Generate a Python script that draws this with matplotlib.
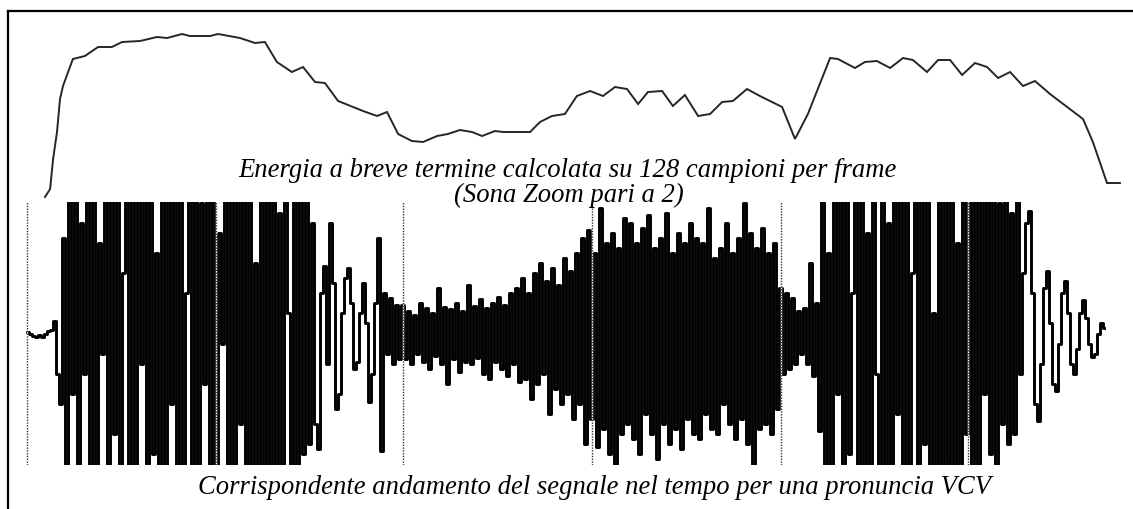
import matplotlib

matplotlib.use("Agg")
import matplotlib.pyplot as plt
import numpy as np

W, H = 1133, 510

# short-time energy (x in waveform sample units, y in arbitrary level units)
energy_t = [6.0, 7.7, 8.7, 10.0, 11.0, 12.0, 13.7, 15.3, 19.3, 23.7, 28.3, 31.7,
            37.7, 43.3, 46.7, 51.7, 54.3, 61.0, 63.7, 71.0, 76.0, 79.3, 83.3,
            88.3, 92.0, 96.0, 99.3, 103.7, 108.7, 112.0, 116.7, 120.0, 123.7,
            128.3, 132.0, 136.7, 140.3, 144.3, 148.3, 151.7, 156.0, 158.7,
            167.7, 171.0, 175.0, 179.3, 183.3, 187.7, 192.0, 196.0, 200.0,
            203.7, 207.0, 211.7, 215.3, 219.3, 223.7, 227.7, 231.7, 235.3,
            240.0, 244.3, 251.7, 256.0, 260.3, 267.7, 270.3, 276.0, 279.3,
            283.3, 287.7, 292.0, 295.3, 300.0, 303.7, 307.7, 311.7, 316.0,
            320.0, 323.7, 327.7, 332.0, 336.0, 341.0, 352.0, 355.3, 360.0, 364.3]
energy_v = [2, 10, 40, 67, 100, 113, 127, 140, 143, 152, 152, 157,
            158, 162, 161, 165, 163, 163, 165, 161, 156, 157, 137,
            127, 132, 117, 116, 98, 92, 88, 83, 87, 65,
            58, 57, 63, 65, 69, 67, 63, 68, 67,
            67, 77, 83, 85, 103, 108, 103, 112, 110,
            95, 107, 108, 93, 104, 83, 85, 97, 98,
            110, 103, 92, 60, 85, 141, 140, 131, 137,
            138, 131, 141, 139, 127, 139, 139, 124, 136,
            132, 121, 127, 113, 118, 105, 80, 57, 16, 16]

# speech waveform samples (VCV), amplitude in display units, clipped at +-131
wave_silence = [1, 0, -2, -3, -1, -3, 0, 2, 3]
wave_onset = [12, -40, -70, 95]
wave_vowel1 = [-150, 160, -60, 150, -160, 110, -40, 165, -150, 160,
               -170, 90, -20, 160, -150, 170, -100, 150, -160, 60,
               170, -155, 140, -170, 165, -30, 150, -160, 170, -120,
               80, -165, 160, -150, 170, -70, 155, -170, 150, -160,
               40, 170, -150, 160, -170, 130, -50, 165, -160, 150,
               -170, 100, -10, 170, -155, 160, -170, 150, -90, 165,
               -160, 170, -150, 70, -165, 160, -170, 150, -130, 170,
               -160, 120, -150, 165, 20, -160, 150, -140, 160, -120,
               140, -110]
wave_taper = [110, -90, -115, 40, 67, -30, 110, 50, -75, -60, 20, 55]
wave_mid = [65, 30, -35, -28, 20, 50, 10, -68, -40, 30, 95, -117,
            40, -20, 35, -30, 28, -25]
wave_cons1 = [28, -25, 22, -30, 18, -20, 30, -28, 25, -35,
              20, -22, 45, -30, 26, -50, 24, -25, 30, -38,
              22, -28, 48, -30, 27, -24, 34, -40, 25, -45,
              30, -28, 36, -35, 28, -42, 40, -30, 45, -48]
wave_cons2 = [55, -45, 40, -65, 60, -50, 70, -40, 52, -80,
              65, -55, 48, -70, 75, -60, 62, -85, 80, -70]
wave_cons3 = [95, -110, 103, -85, 80, -113, 125, -95, 90, -120,
              100, -130, 85, -100, 115, -90, 110, -105, 90, -120,
              105, -80, 118, -100, 85, -125, 95, -90, 120, -110,
              80, -95, 100, -115, 90, -85, 110, -100, 95, -105]
wave_cons4 = [90, -80, 125, -95, 75, -100, 85, -70, 110, -90,
              80, -105, 95, -85, 130, -110, 100, -140, 85, -95,
              105, -90, 80, -100, 90, -75]
wave_fade = [45, -40, 40, -35, 35, -30, 22, -20, 25, -30, 70, -42, 30]
wave_vowel2 = [-97, 165, -150, 80, -160, 170, -60, 150, -165, 160,
               -120, 40, 170, -150, 165, -170, 100, -140, 160, -40,
               -160, 170, -150, 110, -170, 160, -80, 165, -150, 170,
               -160, 60, 150, -170, 160, -110, 170, -150, 20, -165,
               160, -150, 170, -130, 150, -160, 90, -170, 160, -100,
               170, -150, 140, -160, 165, -60, 150, -120, 160, -140,
               130, -90, 150, -110, 120, -100, 135]
wave_decay = [-40, 60, 110, 122, 40, -70, -87, -30, 45, 62, 10, -50, -57,
              -10, 40, 52, 20, -30, -40, -15, 20, 33, 15, -10, -23, -20, 0,
              10, 5]

frame_marks = [0, 63, 125.3, 188.3, 251.3, 313.7]

caption_top = "Energia a breve termine calcolata su 128 campioni per frame"
caption_top2 = "(Sona Zoom pari a 2)"
caption_bottom = "Corrispondente andamento del segnale nel tempo per una pronuncia VCV"

wave = np.concatenate([wave_silence, wave_onset, wave_vowel1, wave_taper,
                       wave_mid, wave_cons1, wave_cons2, wave_cons3,
                       wave_cons4, wave_fade, wave_vowel2, wave_decay])
t = np.arange(len(wave))

plt.rcParams["font.family"] = ["Liberation Serif", "DejaVu Serif"]
fig = plt.figure(figsize=(W / 100, H / 100), dpi=100)
fig.patch.set_facecolor("white")

# shared time scale: sample 0 sits at pixel 27, one sample every 3 px
x_left, x_right = 9, W
xlim = (-(27 - x_left) / 3, (len(wave) - 1) + (x_right - (27 + 3 * (len(wave) - 1))) / 3)


def px_axes(x0, y0, x1, y1):
    return fig.add_axes([x0 / W, 1 - y1 / H, (x1 - x0) / W, (y1 - y0) / H])


# outer frame (only top and left edges are visible in the crop)
axf = px_axes(8, 12, W + 5, H + 5)
axf.set_xticks([])
axf.set_yticks([])
axf.patch.set_alpha(0)
for side in ("right", "bottom"):
    axf.spines[side].set_visible(False)
for side in ("top", "left"):
    axf.spines[side].set_linewidth(1.6)

# energy curve
ax1 = px_axes(x_left, 12, x_right, 202)
ax1.plot(energy_t, energy_v, color="#262626", lw=1.4, solid_joinstyle="miter")
ax1.set_xlim(*xlim)
ax1.set_ylim(-2, 188)
ax1.axis("off")

# waveform
ax2 = px_axes(x_left, 203, x_right, 466)
ax2.plot(t, wave, color="black", lw=2.1, drawstyle="steps-mid")
for m in frame_marks:
    ax2.axvline(m, color="white", lw=1.0)
    ax2.axvline(m, color="#333333", lw=1.0, ls=(0, (1, 1)))
ax2.set_xlim(*xlim)
ax2.set_ylim(-131, 131)
ax2.axis("off")

fs = 19.2
fig.text(568 / W, 1 - 177 / H, caption_top, ha="center", va="baseline",
         fontsize=fs, style="italic")
fig.text(569 / W, 1 - 202 / H, caption_top2, ha="center", va="baseline",
         fontsize=fs, style="italic")
fig.text(594 / W, 1 - 494 / H, caption_bottom, ha="center", va="baseline",
         fontsize=fs, style="italic")

fig.savefig("out.png", dpi=100, facecolor="white")
